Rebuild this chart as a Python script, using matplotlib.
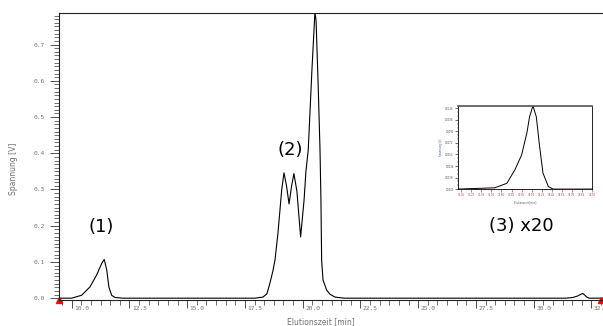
import numpy as np
import matplotlib
matplotlib.use("Agg")
import matplotlib.pyplot as plt
import matplotlib.transforms as mtransforms
from matplotlib.ticker import MultipleLocator, FormatStrFormatter

# chromatogram (time in min, voltage in V)
zeit = [9.45, 10.0, 10.43, 10.79, 11.08, 11.30, 11.41, 11.52, 11.61, 11.73, 11.87, 12.2,
        17.94, 18.28, 18.45, 18.58, 18.71, 18.80, 18.93, 19.09, 19.19, 19.30, 19.41,
        19.52, 19.62, 19.75, 19.91, 20.06, 20.14, 20.24, 20.32, 20.40, 20.49, 20.53,
        20.58, 20.67, 20.75, 20.79, 20.82, 20.88, 21.04, 21.18, 21.40, 21.8,
        31.4, 31.7, 31.9, 32.05, 32.12, 32.2, 32.3, 32.4, 33.0]
spannung = [0.0, 0.0, 0.008, 0.031, 0.064, 0.096, 0.107, 0.077, 0.031, 0.008, 0.002, 0.0,
            0.0, 0.003, 0.012, 0.041, 0.075, 0.105, 0.180, 0.298, 0.346, 0.310, 0.260,
            0.310, 0.344, 0.295, 0.169, 0.271, 0.350, 0.409, 0.519, 0.630, 0.740, 0.790,
            0.765, 0.588, 0.409, 0.271, 0.105, 0.050, 0.022, 0.011, 0.003, 0.0,
            0.0, 0.002, 0.006, 0.011, 0.013, 0.009, 0.003, 0.0, 0.0]

# inset: peak (3) enlarged
inset_zeit = [31.0, 31.55, 31.73, 31.85, 31.95, 32.03, 32.07, 32.12, 32.17, 32.22,
              32.27, 32.35, 32.42, 33.0]
inset_spannung = [0.0, 0.0002, 0.0009, 0.003, 0.0053, 0.0088, 0.0113, 0.0130, 0.0113,
                  0.0066, 0.0025, 0.0004, 0.0, 0.0]

labels = ["(1)", "(2)", "(3) x20"]
label_pos = [(11.27, 0.197), (19.45, 0.41), (29.45, 0.199)]

grau = "#707070"

fig = plt.figure(figsize=(6.03, 3.26), dpi=100)
ax = fig.add_axes([0.0978, 0.0798, 0.9022, 0.8812])
ax.plot(zeit, spannung, color="black", lw=0.8)
ax.set_xlim(9.45, 33.0)
ax.set_ylim(-0.005, 0.788)

ax.spines["right"].set_visible(False)
for s in ["left", "top", "bottom"]:
    ax.spines[s].set_linewidth(0.8)
    ax.spines[s].set_color("#222222")

ax.xaxis.set_major_locator(MultipleLocator(2.5))
ax.xaxis.set_minor_locator(MultipleLocator(2.5 / 6))
ax.yaxis.set_major_locator(MultipleLocator(0.1))
ax.yaxis.set_minor_locator(MultipleLocator(0.01))
ax.xaxis.set_major_formatter(FormatStrFormatter("%.1f"))
ax.yaxis.set_major_formatter(FormatStrFormatter("%.1f"))
ax.tick_params(axis="x", which="major", length=6, width=0.6, color="#333333",
               labelsize=4.5, labelcolor=grau, pad=-1.5)
ax.tick_params(axis="y", which="major", length=6.5, width=0.6, color="#333333",
               labelsize=4.5, labelcolor=grau, pad=3.5)
ax.tick_params(axis="both", which="minor", length=3.5, width=0.5, color="#333333")
shift = mtransforms.ScaledTranslation(2.5 / 100, 0, fig.dpi_scale_trans)
for lab in ax.get_xticklabels():
    lab.set_horizontalalignment("left")
    lab.set_family("DejaVu Sans Mono")
    lab.set_transform(lab.get_transform() + shift)
for lab in ax.get_yticklabels():
    lab.set_family("DejaVu Sans Mono")

ax.set_ylabel("Spannung [V]", fontsize=5.5, color=grau)
ax.yaxis.set_label_coords(-0.076, 0.456)
ax.set_xlabel("Elutionszeit [min]", fontsize=5.5, color=grau)
ax.xaxis.set_label_coords(0.482, -0.061)

# red markers at the ends of the time axis
ax.plot([9.45, 32.9], [-0.005, -0.005], linestyle="none", marker="^", color="red",
        markersize=4, clip_on=False)

for txt, (tx, ty) in zip(labels, label_pos):
    ax.text(tx, ty, txt, fontsize=13, family="DejaVu Sans", ha="center", va="center")

# inset
ins = fig.add_axes([0.7595, 0.42, 0.222, 0.2555])
ins.plot(inset_zeit, inset_spannung, color="black", lw=0.7)
ins.set_xlim(31.0, 33.0)
ins.set_ylim(0.0, 0.0130)
for s in ins.spines.values():
    s.set_linewidth(0.6)
ins.spines["top"].set_linewidth(1.2)
ins.spines["top"].set_color("#555555")
ins.xaxis.set_major_locator(MultipleLocator(0.15))
ins.xaxis.set_minor_locator(MultipleLocator(0.05))
ins.yaxis.set_major_locator(MultipleLocator(0.0018))
ins.yaxis.set_minor_locator(MultipleLocator(0.0006))
ins.xaxis.set_major_formatter(FormatStrFormatter("%.2f"))
ins.yaxis.set_major_formatter(FormatStrFormatter("%.4f"))
ins.tick_params(which="major", length=2, width=0.4, labelsize=1.8, pad=1)
ins.tick_params(which="minor", length=1, width=0.3)
ins.tick_params(axis="x", which="both", color="red", labelcolor="#aa3333")
ins.tick_params(axis="y", labelcolor="#555555")
ins.set_xlabel("Elutionszeit [min]", fontsize=1.8, color="#555555", labelpad=2)
ins.set_ylabel("Spannung [V]", fontsize=1.8, color="#3355aa", labelpad=2)

fig.savefig("out.png", dpi=100)
